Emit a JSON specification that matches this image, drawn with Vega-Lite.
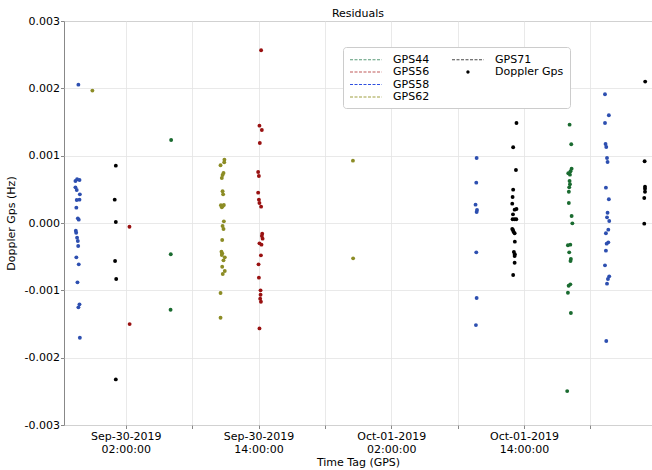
{
  "$schema": "https://vega.github.io/schema/vega-lite/v6.json",
  "width": 588,
  "height": 404,
  "autosize": {"type": "none"},
  "padding": {"left": 64, "top": 21, "right": 0, "bottom": 45},
  "background": "white",
  "config": {"font": "DejaVu Sans", "view": {"stroke": "#888888", "strokeWidth": 1}},
  "title": {"text": "Residuals", "fontSize": 11, "fontWeight": "normal", "color": "black", "offset": 0, "dy": 4, "anchor": "middle", "frame": "group"},
  "data": {"values": [
    {"s": "GPS58", "t": "2019-09-29T21:43:00Z", "v": 0.002055},
    {"s": "GPS58", "t": "2019-09-29T21:27:00Z", "v": 0.000624},
    {"s": "GPS58", "t": "2019-09-29T21:36:00Z", "v": 0.000649},
    {"s": "GPS58", "t": "2019-09-29T21:49:00Z", "v": 0.000639},
    {"s": "GPS58", "t": "2019-09-29T21:27:00Z", "v": 0.000530},
    {"s": "GPS58", "t": "2019-09-29T21:34:00Z", "v": 0.000490},
    {"s": "GPS58", "t": "2019-09-29T21:51:00Z", "v": 0.000426},
    {"s": "GPS58", "t": "2019-09-29T21:34:00Z", "v": 0.000342},
    {"s": "GPS58", "t": "2019-09-29T21:49:00Z", "v": 0.000347},
    {"s": "GPS58", "t": "2019-09-29T21:32:00Z", "v": 0.000228},
    {"s": "GPS58", "t": "2019-09-29T21:40:00Z", "v": 0.000069},
    {"s": "GPS58", "t": "2019-09-29T21:45:00Z", "v": 0.000050},
    {"s": "GPS58", "t": "2019-09-29T21:29:00Z", "v": -0.000114},
    {"s": "GPS58", "t": "2019-09-29T21:31:00Z", "v": -0.000144},
    {"s": "GPS58", "t": "2019-09-29T21:36:00Z", "v": -0.000218},
    {"s": "GPS58", "t": "2019-09-29T21:40:00Z", "v": -0.000267},
    {"s": "GPS58", "t": "2019-09-29T21:42:00Z", "v": -0.000342},
    {"s": "GPS58", "t": "2019-09-29T21:32:00Z", "v": -0.000510},
    {"s": "GPS58", "t": "2019-09-29T21:45:00Z", "v": -0.000614},
    {"s": "GPS58", "t": "2019-09-29T21:38:00Z", "v": -0.000881},
    {"s": "GPS58", "t": "2019-09-29T21:49:00Z", "v": -0.001208},
    {"s": "GPS58", "t": "2019-09-29T21:43:00Z", "v": -0.001253},
    {"s": "GPS58", "t": "2019-09-29T21:51:00Z", "v": -0.001704},
    {"s": "GPS62", "t": "2019-09-29T22:59:00Z", "v": 0.001966},
    {"s": "GPS71", "t": "2019-09-30T01:06:00Z", "v": 0.000852},
    {"s": "GPS71", "t": "2019-09-30T01:00:00Z", "v": 0.000347},
    {"s": "GPS71", "t": "2019-09-30T01:06:00Z", "v": 0.000015},
    {"s": "GPS71", "t": "2019-09-30T01:02:00Z", "v": -0.000565},
    {"s": "GPS71", "t": "2019-09-30T01:08:00Z", "v": -0.000832},
    {"s": "GPS71", "t": "2019-09-30T01:06:00Z", "v": -0.002323},
    {"s": "GPS56", "t": "2019-09-30T02:20:00Z", "v": -0.000055},
    {"s": "GPS56", "t": "2019-09-30T02:21:00Z", "v": -0.001501},
    {"s": "GPS44", "t": "2019-09-30T06:06:00Z", "v": 0.001233},
    {"s": "GPS44", "t": "2019-09-30T06:04:00Z", "v": -0.000465},
    {"s": "GPS44", "t": "2019-09-30T06:03:00Z", "v": -0.001288},
    {"s": "GPS62", "t": "2019-09-30T10:55:00Z", "v": 0.000941},
    {"s": "GPS62", "t": "2019-09-30T10:54:00Z", "v": 0.000901},
    {"s": "GPS62", "t": "2019-09-30T10:34:00Z", "v": 0.000857},
    {"s": "GPS62", "t": "2019-09-30T10:50:00Z", "v": 0.000743},
    {"s": "GPS62", "t": "2019-09-30T10:45:00Z", "v": 0.000713},
    {"s": "GPS62", "t": "2019-09-30T10:41:00Z", "v": 0.000669},
    {"s": "GPS62", "t": "2019-09-30T10:45:00Z", "v": 0.000471},
    {"s": "GPS62", "t": "2019-09-30T10:48:00Z", "v": 0.000426},
    {"s": "GPS62", "t": "2019-09-30T10:36:00Z", "v": 0.000263},
    {"s": "GPS62", "t": "2019-09-30T10:41:00Z", "v": 0.000233},
    {"s": "GPS62", "t": "2019-09-30T10:52:00Z", "v": 0.000267},
    {"s": "GPS62", "t": "2019-09-30T10:46:00Z", "v": 0.000253},
    {"s": "GPS62", "t": "2019-09-30T10:52:00Z", "v": 0.000025},
    {"s": "GPS62", "t": "2019-09-30T10:45:00Z", "v": -0.000045},
    {"s": "GPS62", "t": "2019-09-30T10:50:00Z", "v": -0.000089},
    {"s": "GPS62", "t": "2019-09-30T10:43:00Z", "v": -0.000253},
    {"s": "GPS62", "t": "2019-09-30T10:39:00Z", "v": -0.000426},
    {"s": "GPS62", "t": "2019-09-30T10:43:00Z", "v": -0.000451},
    {"s": "GPS62", "t": "2019-09-30T10:41:00Z", "v": -0.000475},
    {"s": "GPS62", "t": "2019-09-30T10:57:00Z", "v": -0.000510},
    {"s": "GPS62", "t": "2019-09-30T10:50:00Z", "v": -0.000555},
    {"s": "GPS62", "t": "2019-09-30T10:43:00Z", "v": -0.000649},
    {"s": "GPS62", "t": "2019-09-30T10:57:00Z", "v": -0.000713},
    {"s": "GPS62", "t": "2019-09-30T10:46:00Z", "v": -0.000758},
    {"s": "GPS62", "t": "2019-09-30T10:34:00Z", "v": -0.001040},
    {"s": "GPS62", "t": "2019-09-30T10:34:00Z", "v": -0.001407},
    {"s": "GPS56", "t": "2019-09-30T14:14:00Z", "v": 0.002566},
    {"s": "GPS56", "t": "2019-09-30T14:05:00Z", "v": 0.001446},
    {"s": "GPS56", "t": "2019-09-30T14:18:00Z", "v": 0.001382},
    {"s": "GPS56", "t": "2019-09-30T14:07:00Z", "v": 0.001189},
    {"s": "GPS56", "t": "2019-09-30T13:58:00Z", "v": 0.000758},
    {"s": "GPS56", "t": "2019-09-30T14:02:00Z", "v": 0.000698},
    {"s": "GPS56", "t": "2019-09-30T13:58:00Z", "v": 0.000451},
    {"s": "GPS56", "t": "2019-09-30T14:02:00Z", "v": 0.000347},
    {"s": "GPS56", "t": "2019-09-30T14:05:00Z", "v": 0.000297},
    {"s": "GPS56", "t": "2019-09-30T14:14:00Z", "v": 0.000243},
    {"s": "GPS56", "t": "2019-09-30T14:20:00Z", "v": -0.000158},
    {"s": "GPS56", "t": "2019-09-30T14:18:00Z", "v": -0.000193},
    {"s": "GPS56", "t": "2019-09-30T14:22:00Z", "v": -0.000233},
    {"s": "GPS56", "t": "2019-09-30T14:05:00Z", "v": -0.000302},
    {"s": "GPS56", "t": "2019-09-30T14:16:00Z", "v": -0.000322},
    {"s": "GPS56", "t": "2019-09-30T14:13:00Z", "v": -0.000480},
    {"s": "GPS56", "t": "2019-09-30T14:00:00Z", "v": -0.000614},
    {"s": "GPS56", "t": "2019-09-30T14:02:00Z", "v": -0.000812},
    {"s": "GPS56", "t": "2019-09-30T14:11:00Z", "v": -0.001000},
    {"s": "GPS56", "t": "2019-09-30T14:11:00Z", "v": -0.001065},
    {"s": "GPS56", "t": "2019-09-30T14:09:00Z", "v": -0.001124},
    {"s": "GPS56", "t": "2019-09-30T14:13:00Z", "v": -0.001169},
    {"s": "GPS56", "t": "2019-09-30T14:05:00Z", "v": -0.001565},
    {"s": "GPS62", "t": "2019-09-30T22:32:00Z", "v": 0.000926},
    {"s": "GPS62", "t": "2019-09-30T22:33:00Z", "v": -0.000525},
    {"s": "GPS58", "t": "2019-10-01T09:43:00Z", "v": 0.000966},
    {"s": "GPS58", "t": "2019-10-01T09:41:00Z", "v": 0.000599},
    {"s": "GPS58", "t": "2019-10-01T09:37:00Z", "v": 0.000272},
    {"s": "GPS58", "t": "2019-10-01T09:45:00Z", "v": 0.000193},
    {"s": "GPS58", "t": "2019-10-01T09:43:00Z", "v": 0.000163},
    {"s": "GPS58", "t": "2019-10-01T09:41:00Z", "v": -0.000436},
    {"s": "GPS58", "t": "2019-10-01T09:43:00Z", "v": -0.001114},
    {"s": "GPS58", "t": "2019-10-01T09:39:00Z", "v": -0.001516},
    {"s": "GPS71", "t": "2019-10-01T13:19:00Z", "v": 0.001486},
    {"s": "GPS71", "t": "2019-10-01T13:01:00Z", "v": 0.001125},
    {"s": "GPS71", "t": "2019-10-01T13:16:00Z", "v": 0.000788},
    {"s": "GPS71", "t": "2019-10-01T13:01:00Z", "v": 0.000495},
    {"s": "GPS71", "t": "2019-10-01T12:58:00Z", "v": 0.000386},
    {"s": "GPS71", "t": "2019-10-01T12:56:00Z", "v": 0.000287},
    {"s": "GPS71", "t": "2019-10-01T13:19:00Z", "v": 0.000208},
    {"s": "GPS71", "t": "2019-10-01T13:09:00Z", "v": 0.000198},
    {"s": "GPS71", "t": "2019-10-01T13:00:00Z", "v": 0.000129},
    {"s": "GPS71", "t": "2019-10-01T13:09:00Z", "v": 0.000055},
    {"s": "GPS71", "t": "2019-10-01T12:58:00Z", "v": 0.000055},
    {"s": "GPS71", "t": "2019-10-01T13:18:00Z", "v": 0.000055},
    {"s": "GPS71", "t": "2019-10-01T12:56:00Z", "v": -0.000089},
    {"s": "GPS71", "t": "2019-10-01T13:00:00Z", "v": -0.000104},
    {"s": "GPS71", "t": "2019-10-01T13:03:00Z", "v": -0.000129},
    {"s": "GPS71", "t": "2019-10-01T13:09:00Z", "v": -0.000153},
    {"s": "GPS71", "t": "2019-10-01T13:10:00Z", "v": -0.000277},
    {"s": "GPS71", "t": "2019-10-01T13:05:00Z", "v": -0.000431},
    {"s": "GPS71", "t": "2019-10-01T13:10:00Z", "v": -0.000465},
    {"s": "GPS71", "t": "2019-10-01T13:09:00Z", "v": -0.000490},
    {"s": "GPS71", "t": "2019-10-01T13:09:00Z", "v": -0.000590},
    {"s": "GPS71", "t": "2019-10-01T13:01:00Z", "v": -0.000773},
    {"s": "GPS44", "t": "2019-10-01T18:07:00Z", "v": 0.001461},
    {"s": "GPS44", "t": "2019-10-01T18:16:00Z", "v": 0.001169},
    {"s": "GPS44", "t": "2019-10-01T18:18:00Z", "v": 0.000807},
    {"s": "GPS44", "t": "2019-10-01T18:12:00Z", "v": 0.000768},
    {"s": "GPS44", "t": "2019-10-01T18:00:00Z", "v": 0.000738},
    {"s": "GPS44", "t": "2019-10-01T18:09:00Z", "v": 0.000718},
    {"s": "GPS44", "t": "2019-10-01T18:07:00Z", "v": 0.000624},
    {"s": "GPS44", "t": "2019-10-01T18:09:00Z", "v": 0.000575},
    {"s": "GPS44", "t": "2019-10-01T18:05:00Z", "v": 0.000530},
    {"s": "GPS44", "t": "2019-10-01T18:03:00Z", "v": 0.000465},
    {"s": "GPS44", "t": "2019-10-01T18:03:00Z", "v": 0.000297},
    {"s": "GPS44", "t": "2019-10-01T18:18:00Z", "v": 0.000104},
    {"s": "GPS44", "t": "2019-10-01T18:22:00Z", "v": -0.000005},
    {"s": "GPS44", "t": "2019-10-01T17:58:00Z", "v": -0.000331},
    {"s": "GPS44", "t": "2019-10-01T18:11:00Z", "v": -0.000322},
    {"s": "GPS44", "t": "2019-10-01T18:05:00Z", "v": -0.000436},
    {"s": "GPS44", "t": "2019-10-01T18:14:00Z", "v": -0.000535},
    {"s": "GPS44", "t": "2019-10-01T18:12:00Z", "v": -0.000565},
    {"s": "GPS44", "t": "2019-10-01T18:02:00Z", "v": -0.000932},
    {"s": "GPS44", "t": "2019-10-01T18:11:00Z", "v": -0.000911},
    {"s": "GPS44", "t": "2019-10-01T17:58:00Z", "v": -0.001036},
    {"s": "GPS44", "t": "2019-10-01T18:14:00Z", "v": -0.001337},
    {"s": "GPS44", "t": "2019-10-01T17:54:00Z", "v": -0.002496},
    {"s": "GPS58", "t": "2019-10-01T21:19:00Z", "v": 0.001912},
    {"s": "GPS58", "t": "2019-10-01T21:40:00Z", "v": 0.001600},
    {"s": "GPS58", "t": "2019-10-01T21:19:00Z", "v": 0.001486},
    {"s": "GPS58", "t": "2019-10-01T21:22:00Z", "v": 0.001174},
    {"s": "GPS58", "t": "2019-10-01T21:26:00Z", "v": 0.001129},
    {"s": "GPS58", "t": "2019-10-01T21:30:00Z", "v": 0.000966},
    {"s": "GPS58", "t": "2019-10-01T21:33:00Z", "v": 0.000906},
    {"s": "GPS58", "t": "2019-10-01T21:24:00Z", "v": 0.000525},
    {"s": "GPS58", "t": "2019-10-01T21:40:00Z", "v": 0.000352},
    {"s": "GPS58", "t": "2019-10-01T21:33:00Z", "v": 0.000153},
    {"s": "GPS58", "t": "2019-10-01T21:30:00Z", "v": 0.000084},
    {"s": "GPS58", "t": "2019-10-01T21:42:00Z", "v": 0.000030},
    {"s": "GPS58", "t": "2019-10-01T21:37:00Z", "v": -0.000099},
    {"s": "GPS58", "t": "2019-10-01T21:24:00Z", "v": -0.000153},
    {"s": "GPS58", "t": "2019-10-01T21:37:00Z", "v": -0.000287},
    {"s": "GPS58", "t": "2019-10-01T21:28:00Z", "v": -0.000307},
    {"s": "GPS58", "t": "2019-10-01T21:24:00Z", "v": -0.000411},
    {"s": "GPS58", "t": "2019-10-01T21:19:00Z", "v": -0.000629},
    {"s": "GPS58", "t": "2019-10-01T21:42:00Z", "v": -0.000792},
    {"s": "GPS58", "t": "2019-10-01T21:35:00Z", "v": -0.000832},
    {"s": "GPS58", "t": "2019-10-01T21:30:00Z", "v": -0.000901},
    {"s": "GPS58", "t": "2019-10-01T21:26:00Z", "v": -0.001753},
    {"s": "GPS71", "t": "2019-10-02T00:57:00Z", "v": 0.002100},
    {"s": "GPS71", "t": "2019-10-02T00:54:00Z", "v": 0.000917},
    {"s": "GPS71", "t": "2019-10-02T00:56:00Z", "v": 0.000540},
    {"s": "GPS71", "t": "2019-10-02T00:56:00Z", "v": 0.000510},
    {"s": "GPS71", "t": "2019-10-02T00:56:00Z", "v": 0.000465},
    {"s": "GPS71", "t": "2019-10-02T00:52:00Z", "v": 0.000371},
    {"s": "GPS71", "t": "2019-10-02T00:52:00Z", "v": -0.000010}
  ]},
  "encoding": {
    "x": {
      "field": "t", "type": "temporal",
      "scale": {"type": "utc", "domain": [
        {"year": 2019, "month": 9, "date": 29, "hours": 20, "minutes": 25, "utc": true},
        {"year": 2019, "month": 10, "date": 2, "hours": 1, "minutes": 34, "utc": true}
      ]},
      "axis": {
        "title": "Time Tag (GPS)",
        "values": [
          {"year": 2019, "month": 9, "date": 30, "hours": 2, "utc": true},
          {"year": 2019, "month": 9, "date": 30, "hours": 8, "utc": true},
          {"year": 2019, "month": 9, "date": 30, "hours": 14, "utc": true},
          {"year": 2019, "month": 9, "date": 30, "hours": 20, "utc": true},
          {"year": 2019, "month": 10, "date": 1, "hours": 2, "utc": true},
          {"year": 2019, "month": 10, "date": 1, "hours": 8, "utc": true},
          {"year": 2019, "month": 10, "date": 1, "hours": 14, "utc": true},
          {"year": 2019, "month": 10, "date": 1, "hours": 20, "utc": true}
        ],
        "labelExpr": "(utchours(datum.value) == 2 || utchours(datum.value) == 14) ? [utcFormat(datum.value, '%b-%d-%Y'), utcFormat(datum.value, '%H:%M:%S')] : ''",
        "labelFontSize": 11, "labelColor": "black", "labelPadding": 2, "labelLineHeight": 13,
        "labelFlush": false, "labelOverlap": false,
        "domain": false, "tickColor": "#888888", "tickSize": 3.5, "tickWidth": 1,
        "grid": true, "gridColor": "#e3e3e3", "gridWidth": 0.8,
        "titleFontSize": 11, "titleFontWeight": "normal", "titleColor": "black", "titlePadding": 2
      }
    },
    "y": {
      "field": "v", "type": "quantitative",
      "scale": {"domain": [-0.003, 0.003], "nice": false, "zero": false},
      "axis": {
        "title": "Doppler Gps (Hz)",
        "values": [-0.003, -0.002, -0.001, 0, 0.001, 0.002, 0.003],
        "labelExpr": "(datum.value < 0 ? '-' : '') + format(abs(datum.value), '.3f')",
        "labelFontSize": 11, "labelColor": "black", "labelPadding": 1,
        "domain": false, "tickColor": "#888888", "tickSize": 3.5, "tickWidth": 1,
        "grid": true, "gridColor": "#e3e3e3", "gridWidth": 0.8,
        "titleFontSize": 11, "titleFontWeight": "normal", "titleColor": "black", "titlePadding": 8
      }
    }
  },
  "layer": [
    {
      "mark": {"type": "circle", "size": 15, "opacity": 1},
      "encoding": {
        "color": {
          "field": "s", "type": "nominal",
          "scale": {
            "domain": ["GPS44", "GPS56", "GPS58", "GPS62", "GPS71"],
            "range": ["#1a6b30", "#991111", "#2d4fb0", "#8c8c25", "#000000"]
          },
          "legend": null
        }
      }
    },
    {
      "transform": [{"filter": "datum.s === 'none'"}],
      "mark": {"type": "point", "filled": true, "color": "black", "opacity": 1, "fillOpacity": 1, "strokeOpacity": 1, "strokeWidth": 1.2, "size": 121},
      "encoding": {
        "stroke": {
          "field": "s", "type": "nominal",
          "scale": {
            "domain": ["GPS44", "GPS56", "GPS58", "GPS62", "GPS71", "Doppler Gps", "_b1", "_b2"],
            "range": ["#5a9a78", "#c05a5a", "#2f50e0", "#a0a040", "#4a4a4a", "transparent", "transparent", "transparent"]
          },
          "legend": {
            "orient": "none", "legendX": 279, "legendY": 26, "columns": 2, "title": null,
            "symbolSize": 121, "symbolStrokeWidth": 1.2, "symbolDash": [3, 1.5], "symbolOpacity": 1,
            "symbolOffset": -5.5, "rowPadding": 0.5, "columnPadding": 19, "labelOffset": 36.5,
            "labelFontSize": 11, "labelColor": "black", "labelFont": "DejaVu Sans",
            "padding": 6, "fillColor": "white", "strokeColor": "#cccccc", "cornerRadius": 3,
            "labelExpr": "indexof(datum.label, '_') === 0 ? '' : datum.label"
          }
        },
        "shape": {
          "field": "s", "type": "nominal",
          "scale": {
            "domain": ["GPS44", "GPS56", "GPS58", "GPS62", "GPS71", "Doppler Gps", "_b1", "_b2"],
            "range": ["M0,0L5.8,0", "M0,0L5.8,0", "M0,0L5.8,0", "M0,0L5.8,0", "M0,0L5.8,0", "M2.6,0A0.3,0.3,0,1,1,3.2,0A0.3,0.3,0,1,1,2.6,0Z", "M0,0", "M0,0"]
          }
        }
      }
    }
  ]
}
